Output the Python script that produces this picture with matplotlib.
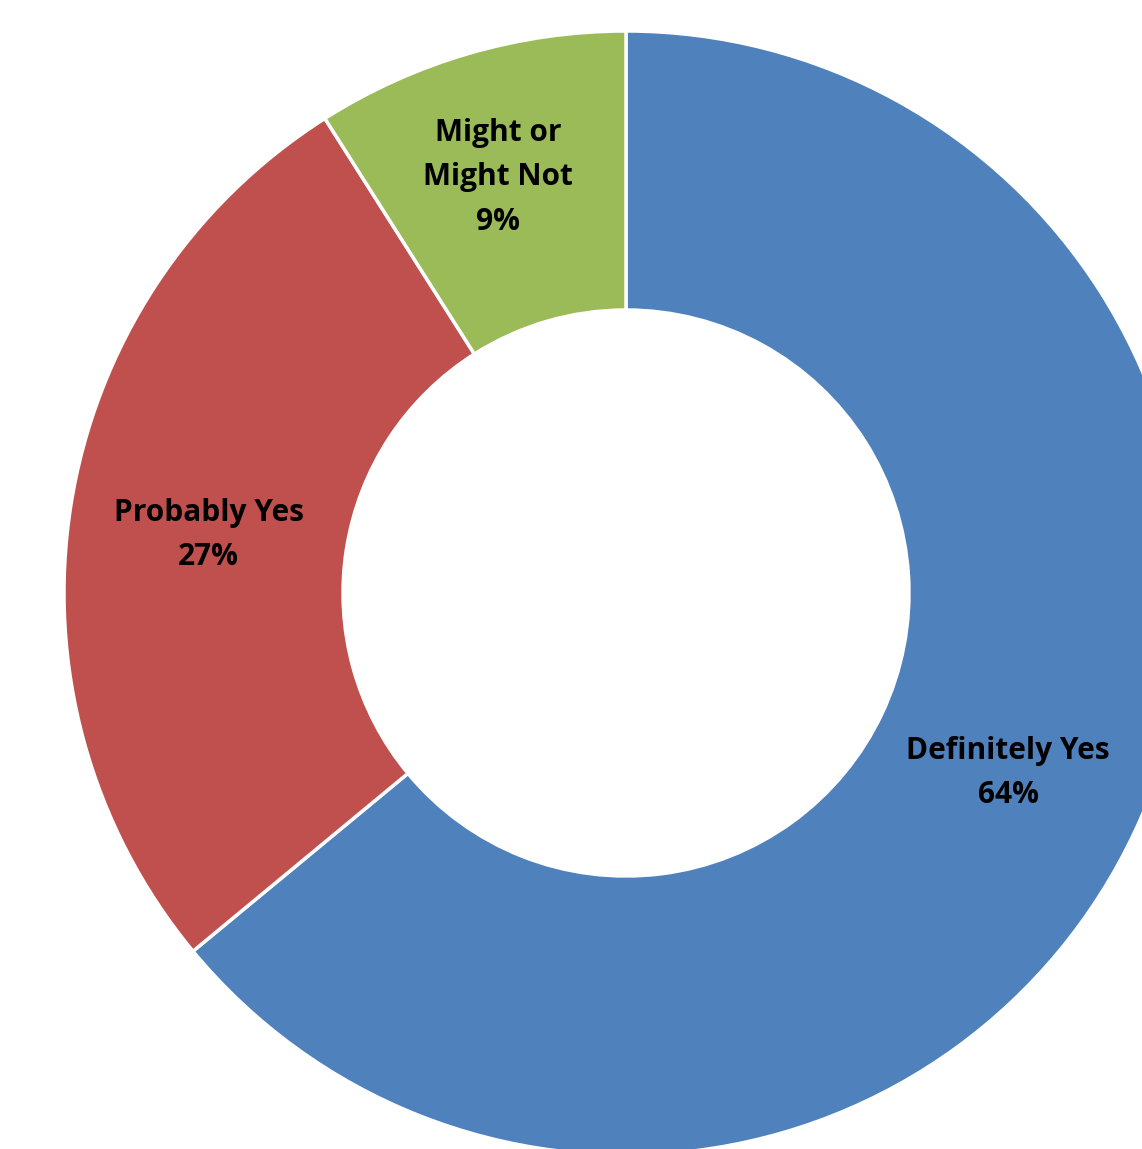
import matplotlib
matplotlib.use("Agg")
import matplotlib.pyplot as plt

categories = ["Definitely Yes", "Probably Yes", "Might or\nMight Not"]
shares = [64, 27, 9]
colors = ["#4F81BD", "#C0504D", "#9BBB59"]

W, H = 1142, 1149
fig = plt.figure(figsize=(W / 100, H / 100), dpi=100)
ax = fig.add_axes([0, 0, 1, 1])

cx, cy = 626, 593          # donut centre in pixel coordinates (from top-left)
outer = 562
inner = 283

labels_iter = iter(categories)


def fmt(p):
    return f"{next(labels_iter)}\n{p:.0f}%"


wedges, texts, autotexts = ax.pie(
    shares,
    colors=colors,
    startangle=90,
    counterclock=False,
    radius=outer,
    center=(0, 0),
    autopct=fmt,
    pctdistance=(outer + inner) / 2 / outer,
    wedgeprops=dict(width=outer - inner, edgecolor="white", linewidth=2.5),
    textprops=dict(fontsize=21.5, fontweight="bold", color="black",
                   family="Open Sans", ha="center", va="center",
                   linespacing=1.62),
)

# small nudges so the labels sit like the data-label layout
autotexts[1].set_position((autotexts[1].get_position()[0], autotexts[1].get_position()[1] - 8))
autotexts[2].set_position((autotexts[2].get_position()[0] - 10, autotexts[2].get_position()[1] + 10))

ax.set_xlim(-cx, W - cx)
ax.set_ylim(-(H - cy), cy)
ax.set_aspect("equal")
ax.axis("off")

fig.savefig("out.png", dpi=100)
